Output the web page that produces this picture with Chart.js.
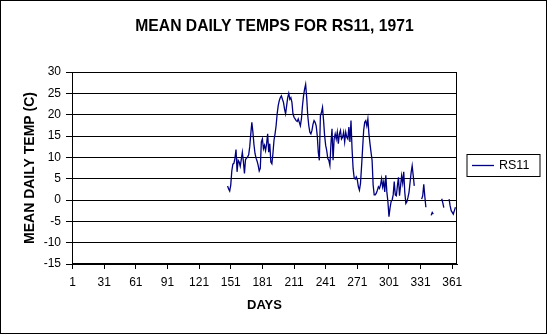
<!DOCTYPE html>
<html lang="en">
<head>
  <meta charset="UTF-8" />
  <title>Mean daily temps for RS11, 1971</title>
  <script src="https://cdn.jsdelivr.net/npm/chart.js"></script>
  <style>
    body {
      margin: 0;
      background-color: #fff;
    }

    #tempChart {
      display: block;
    }
  </style>
</head>
<body>
  <canvas id="tempChart" width="549" height="335"></canvas>

  <script>
    const chartTitle = 'MEAN DAILY TEMPS FOR RS11, 1971';
    const seriesName = 'RS11';
    const seriesColor = '#000080';

    // x axis tick labels (day of year)
    const dayTicks = [1, 31, 61, 91, 121, 151, 181, 211, 241, 271, 301, 331, 361];

    // mean daily temperature (C), one value per day starting at firstDay; null = no reading
    const firstDay = 148;
    const temps = [
      3.3, 2.6, 2.1, 3.5, 6.8, 8.4, 8.6, 9.8, 11.8, 6.6,          // 148
      9.3, 8.9, 7.9, 9.5, 11.2, 9.0, 6.2, 9.5, 9.8, 10.1,         // 158
      10.6, 12.5, 15.5, 18.2, 15.9, 13.0, 10.9, 9.8, 9.1, 8.1,    // 168
      6.8, 7.4, 13.6, 14.3, 12.0, 12.8, 11.6, 13.2, 15.5, 11.2,   // 178
      13.2, 8.9, 8.5, 10.9, 14.0, 15.5, 17.4, 20.2, 22.1, 23.3,   // 188
      24.0, 24.4, 23.6, 22.9, 21.3, 20.2, 22.1, 24.0, 25.0, 23.6, // 198
      24.0, 22.9, 20.2, 19.4, 19.0, 18.6, 18.4, 19.0, 18.2, 17.4, // 208
      19.0, 22.1, 24.4, 26.0, 27.1, 24.0, 19.8, 17.4, 15.9, 15.5, // 218
      16.3, 17.8, 18.6, 18.2, 17.4, 15.1, 11.2, 9.3, 19.8, 20.5,  // 228
      21.7, 18.6, 15.1, 12.8, 11.6, 9.7, 9.3, 8.1, 13.2, 16.7,    // 238
      9.3, 14.3, 15.5, 14.3, 15.9, 13.2, 15.5, 16.3, 14.3, 14.7,  // 248
      15.9, 13.6, 15.9, 14.7, 14.3, 17.1, 13.6, 18.6, 12.0, 7.4,  // 258
      5.2, 4.9, 5.4, 4.7, 3.1, 2.3, 3.9, 7.8, 12.0, 16.3,         // 268
      18.2, 18.6, 17.4, 19.0, 15.5, 13.2, 11.2, 9.3, 3.5, 1.2,    // 278
      1.2, 1.6, 2.3, 3.1, 2.7, 3.5, 5.0, 3.1, 4.3, 1.9,           // 288
      5.8, 1.9, -0.4, -3.9, -1.9, -0.4, 0.0, 1.2, 4.3, 1.2,       // 298
      1.0, 3.3, 5.3, 1.0, 3.3, 5.7, 4.0, 6.6, 1.8, -0.8,          // 308
      -0.4, 0.6, 1.8, 4.1, 6.4, 8.0, 5.7, 3.3, null, null,        // 318
      null, null, null, null, 0.2, 1.0, 3.7, 0.8, -1.7, null,     // 328
      null, null, null, -3.6, -2.9, -3.3, null, null, null, null, // 338
      null, null, null, 0.3, -0.6, -1.8, null, null, null, null,  // 348
      0.2, -1.4, -2.5, -2.9, -3.3, -2.5, -1.7, null               // 358
    ];

    const fontFamily = "'Liberation Sans', Arial, sans-serif";
    Chart.defaults.font.family = fontFamily;
    Chart.defaults.color = '#000';

    // title, plot frame, outer border and the boxed legend on the right
    const framePlugin = {
      id: 'frame',
      afterDraw(chart) {
        const { ctx, chartArea: a, width } = chart;
        const left = Math.round(a.left) + 0.5;
        const top = Math.round(a.top) + 0.5;
        const right = Math.round(a.right) - 0.5;
        const bottom = Math.round(a.bottom) - 0.5;
        ctx.save();
        ctx.fillStyle = '#000';
        ctx.font = 'bold 15.7px ' + fontFamily;
        ctx.textAlign = 'center';
        ctx.textBaseline = 'middle';
        ctx.fillText(chartTitle, width / 2, 27);

        ctx.strokeStyle = '#000';
        ctx.lineWidth = 1;
        ctx.strokeRect(left, top, right - left, bottom - top);
        ctx.strokeRect(0.5, 0.5, 546, 333);

        const lx = right + 10.5;
        const ly = 154.5;
        ctx.strokeRect(lx, ly, 73, 22);
        ctx.strokeStyle = seriesColor;
        ctx.lineWidth = 1.3;
        ctx.beginPath();
        ctx.moveTo(lx + 5, ly + 11);
        ctx.lineTo(lx + 27, ly + 11);
        ctx.stroke();
        ctx.font = '12.5px ' + fontFamily;
        ctx.textAlign = 'left';
        ctx.fillText(seriesName, lx + 32, ly + 11.5);
        ctx.restore();
      }
    };

    new Chart(document.getElementById('tempChart'), {
      type: 'line',
      data: {
        datasets: [{
          label: seriesName,
          data: temps.map((t, i) => ({ x: firstDay + i, y: t })),
          borderColor: seriesColor,
          borderWidth: 1.3,
          pointRadius: 0,
          tension: 0,
          spanGaps: false
        }]
      },
      options: {
        responsive: false,
        animation: false,
        events: [],
        layout: {
          padding: { left: 0, right: 92, top: 72, bottom: 0 }
        },
        scales: {
          x: {
            type: 'linear',
            min: 0.5,
            max: 365.5,
            afterBuildTicks: scale => {
              scale.ticks = dayTicks.map(v => ({ value: v }));
            },
            afterFit: scale => { scale.height = 71; },
            ticks: {
              autoSkip: false,
              maxRotation: 0,
              padding: 6,
              font: { size: 12 }
            },
            grid: {
              drawOnChartArea: false,
              color: '#000',
              tickLength: 5
            },
            border: { color: '#000' },
            title: {
              display: true,
              text: 'DAYS',
              font: { size: 13, weight: 'bold' },
              padding: { top: 0, bottom: 22.2 }
            }
          },
          y: {
            min: -15,
            max: 30,
            afterFit: scale => { scale.width = 72; },
            ticks: {
              stepSize: 5,
              padding: 5,
              font: { size: 12 }
            },
            grid: {
              color: '#000',
              tickLength: 6
            },
            border: { color: '#000' },
            title: {
              display: true,
              text: 'MEAN DAILY TEMP (C)',
              font: { size: 14, weight: 'bold' },
              padding: { top: 21.6, bottom: 0 }
            }
          }
        },
        plugins: {
          legend: { display: false },
          tooltip: { enabled: false },
          title: { display: false }
        }
      },
      plugins: [framePlugin]
    });
  </script>
</body>
</html>
